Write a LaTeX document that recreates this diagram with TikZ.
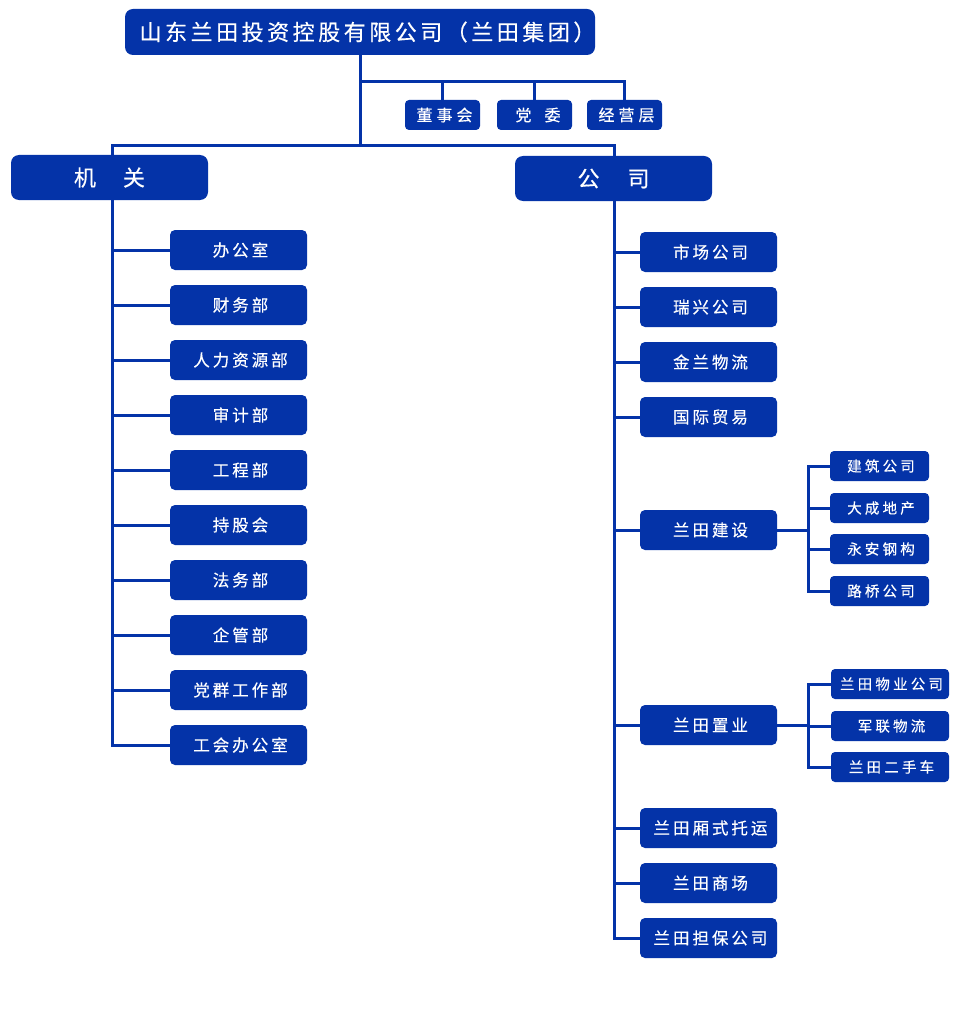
\documentclass[tikz,border=0pt]{standalone}
\usepackage{fontspec}
\setmainfont{Noto Sans CJK SC}
\usetikzlibrary{backgrounds}
\definecolor{lt}{HTML}{0433A8}
\newcommand\ftop{\fontsize{22}{26}\selectfont\addfontfeature{LetterSpace=16,FakeBold=0.4}}
\newcommand\fbig{\fontsize{22}{26}\selectfont\addfontfeature{FakeBold=0.4}}
\newcommand\fmid{\fontsize{16.5}{20}\selectfont\addfontfeature{LetterSpace=18,FakeBold=0.4}}
\newcommand\fsm{\fontsize{16}{20}\selectfont\addfontfeature{LetterSpace=25,FakeBold=0.4}}
\newcommand\fsub{\fontsize{14.5}{18}\selectfont\addfontfeature{LetterSpace=22,FakeBold=0.4}}
\begin{document}
\begin{tikzpicture}[x=1pt,y=-1pt,
  box/.style={fill=lt,text=white,inner sep=0pt,draw=none},
  topbox/.style={box,minimum width=470pt,minimum height=46pt,rounded corners=8pt,font=\ftop},
  headbox/.style={box,minimum width=197pt,minimum height=45pt,rounded corners=8pt,font=\fbig},
  smbox/.style={box,minimum width=75pt,minimum height=30pt,rounded corners=4pt,font=\fsm},
  midbox/.style={box,minimum width=137pt,minimum height=40pt,rounded corners=5pt,font=\fmid},
  subbox/.style={box,minimum width=99pt,minimum height=30pt,rounded corners=4pt,font=\fsub},
  subboxw/.style={subbox,minimum width=118pt},
  ln/.style={draw=lt,line width=3pt,line cap=rect}]
\useasboundingbox (0,0) rectangle (960,1011);

\node[topbox] (top) at (360,32) {\kern6pt山东兰田投资控股有限公司（兰田集团）\kern-9pt};
\node[smbox] (dsh) at (442.5,115) {董事会\kern-4pt};
\node[smbox] (dw) at (534.5,115) {党\hspace{13pt}委\kern-7pt};
\node[smbox] (jyc) at (624.5,115) {经营层\kern-4pt};
\node[headbox] (jg) at (109.5,177.5) {机\hspace{27pt}关};
\node[headbox] (gs) at (613.5,178.5) {公\hspace{28pt}司};

% left column
\foreach \n/\y/\t in {l1/250/办公室,l2/305/财务部,l3/360/人力资源部,l4/415/审计部,l5/470/工程部,l6/525/持股会,l7/580/法务部,l8/635/企管部,l9/690/党群工作部,l10/745/工会办公室}
  \node[midbox] (\n) at (238.5,\y) {\t\kern-4pt};

% right column
\foreach \n/\y/\t in {r1/252/市场公司,r2/307/瑞兴公司,r3/362/金兰物流,r4/417/国际贸易,r5/530/兰田建设,r6/725/兰田置业,r7/828/兰田厢式托运,r8/883/兰田商场,r9/938/兰田担保公司}
  \node[midbox] (\n) at (708.5,\y) {\t\kern-4pt};

% sub of 兰田建设
\foreach \n/\y/\t in {a1/466/建筑公司,a2/508/大成地产,a3/549/永安钢构,a4/591/路桥公司}
  \node[subbox] (\n) at (879.5,\y) {\t\kern-3pt};
% sub of 兰田置业
\foreach \n/\y/\t in {b1/684/兰田物业公司,b2/726/军联物流,b3/767/兰田二手车}
  \node[subboxw] (\n) at (890,\y) {\t\kern-3pt};

\coordinate (j1) at (360,82);
\coordinate (j2) at (360,146);
\coordinate (lT) at (112,146);
\coordinate (rT) at (614,146);
\coordinate (sA) at (808,0);

\begin{scope}[on background layer]
  \fill[white] (0,0) rectangle (960,1011);
  \draw[ln] (top.south) -- (j2);
  \draw[ln] (j1) -| (jyc.north);
  \draw[ln] (dsh.north) -- (dsh.north |- j1);
  \draw[ln] (dw.north) -- (dw.north |- j1);
  \draw[ln] (lT) -- (rT);
  \draw[ln] (lT) -- (lT |- l10.west);
  \draw[ln] (rT) -- (rT |- r9.west);
  \foreach \n in {l1,l2,l3,l4,l5,l6,l7,l8,l9,l10}
    \draw[ln] (lT |- \n.west) -- (\n.west);
  \foreach \n in {r1,r2,r3,r4,r5,r6,r7,r8,r9}
    \draw[ln] (rT |- \n.west) -- (\n.west);
  \draw[ln] (r5.east) -- (sA |- r5.east);
  \draw[ln] (sA |- a1.west) -- (sA |- a4.west);
  \foreach \n in {a1,a2,a3,a4}
    \draw[ln] (sA |- \n.west) -- (\n.west);
  \draw[ln] (r6.east) -- (sA |- r6.east);
  \draw[ln] (sA |- b1.west) -- (sA |- b3.west);
  \foreach \n in {b1,b2,b3}
    \draw[ln] (sA |- \n.west) -- (\n.west);
\end{scope}
\end{tikzpicture}
\end{document}
